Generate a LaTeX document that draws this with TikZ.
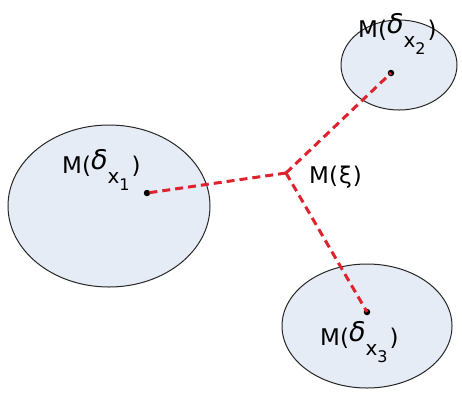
\documentclass[tikz,border=0pt]{standalone}
\usepackage{fontspec}
\setmainfont{DejaVu Sans}
\usetikzlibrary{shapes.geometric}
\definecolor{blobfill}{RGB}{230,236,246}
\definecolor{linkred}{RGB}{222,34,46}
\newcommand{\dlabel}[1]{M(\raisebox{0.15em}{\fontsize{27}{27}\selectfont\itshape δ}\raisebox{-0.45em}{\fontsize{20}{20}\selectfont x\raisebox{-0.35em}{\fontsize{16}{16}\selectfont #1}}\kern2pt)}
\tikzset{
  blob/.style={ellipse, draw=black!85, line width=1pt, fill=blobfill, inner sep=0pt},
  dotpt/.style={circle, fill=black, inner sep=0pt, minimum size=6.5pt},
  link/.style={draw=linkred, line width=3pt, dash pattern=on 8pt off 5pt},
  lbl/.style={inner sep=0pt, font=\fontsize{23}{23}\selectfont}
}
\begin{document}
\begin{tikzpicture}[x=1pt,y=-1pt]
\useasboundingbox (0,0) rectangle (462,400);
\node[blob, minimum width=202pt, minimum height=162pt] (e1) at (109,206) {};
\node[blob, minimum width=116pt, minimum height=90pt] (e2) at (399,65) {};
\node[blob, minimum width=170pt, minimum height=124pt] (e3) at (367,326) {};
\coordinate (j) at (286,173);
\node[dotpt] (d1) at (147,193) {};
\node[dotpt] (d2) at (391,73) {};
\node[dotpt] (d3) at (367,312) {};
\draw[link] (j) -- (d1.center);
\draw[link] (j) -- (d2.center);
\draw[link] (j) -- (d3.center);
\node[lbl, anchor=base west] (l1) at (62,173) {\dlabel{1}};
\node[lbl, anchor=base west] (l2) at (358,37) {\dlabel{2}};
\node[lbl, anchor=base west] (l3) at (320,345) {\dlabel{3}};
\node[lbl, anchor=base west] (l0) at (309,183) {M(\kern1pt ξ\kern1pt)};
\end{tikzpicture}
\end{document}
